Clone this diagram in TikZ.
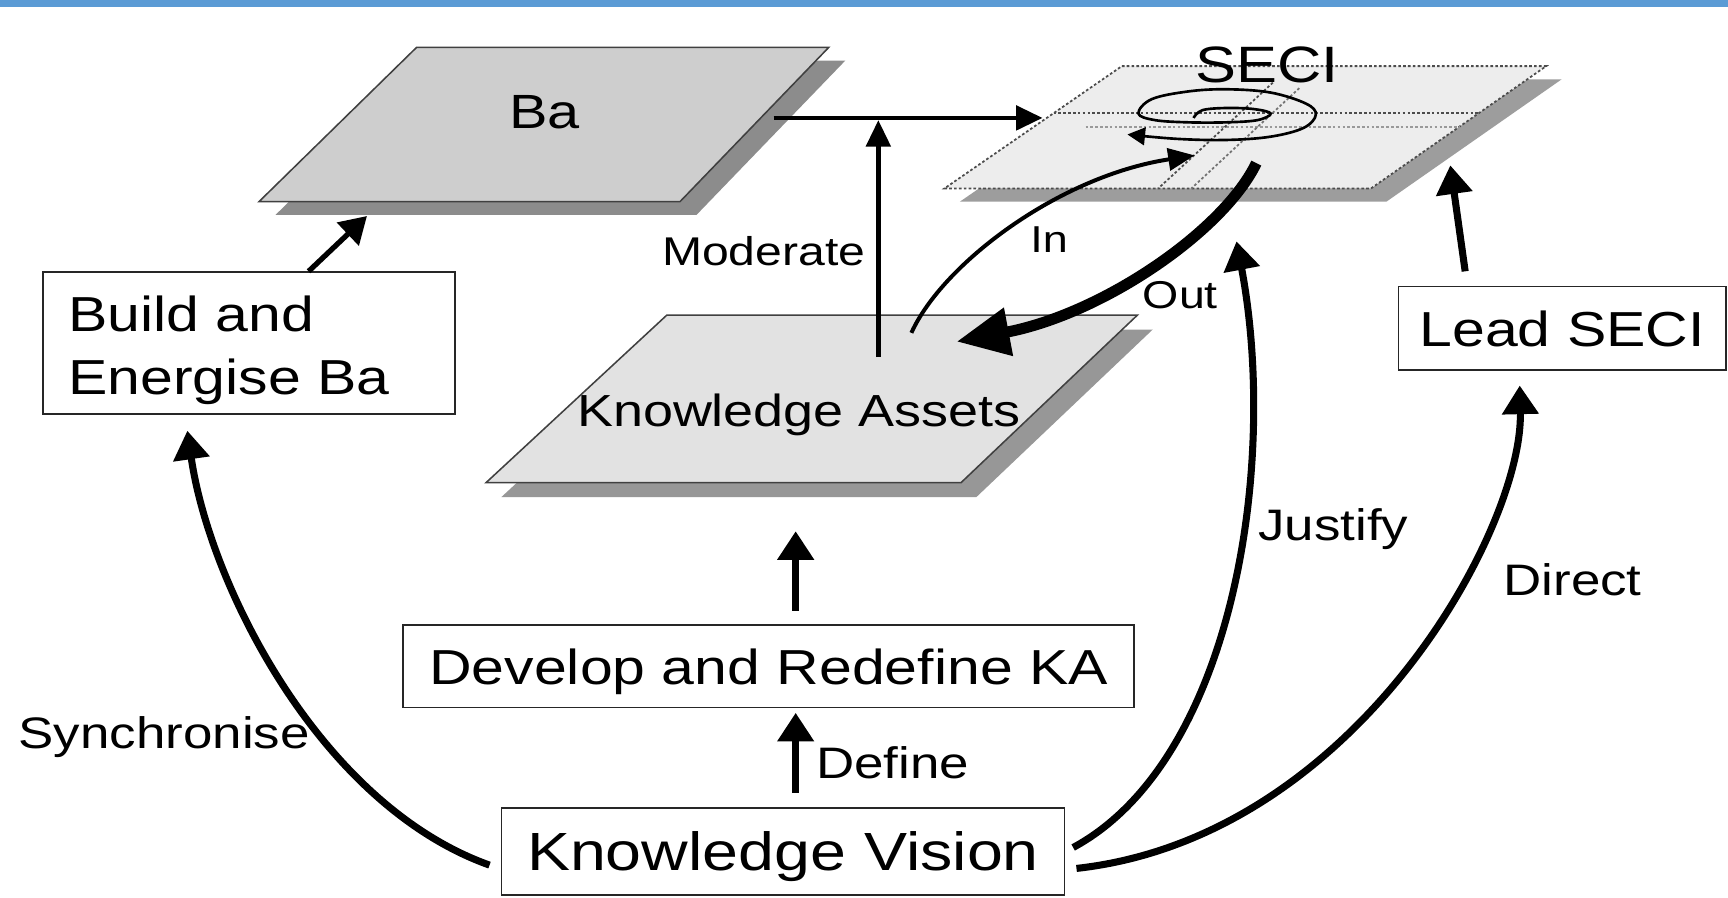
\documentclass[tikz,border=0pt]{standalone}
\usepackage{fontspec}
\setmainfont{Liberation Sans}[FakeStretch=1.2]
\usetikzlibrary{arrows.meta,calc}
\definecolor{topbar}{HTML}{5B9BD5}
\definecolor{bafill}{HTML}{CECECE}
\definecolor{kafill}{HTML}{E2E2E2}
\definecolor{secifill}{HTML}{EDEDED}
\definecolor{shadowgray}{HTML}{8C8C8C}
\begin{document}
\begin{tikzpicture}[x=0.5pt,y=-0.5pt,
  box/.style={draw=black!85,line width=0.8pt,fill=white,inner sep=0pt,text depth=0pt},
  boxfont/.style={font=\fontsize{22.3}{28.5}\selectfont},
  lab/.style={inner sep=0pt,anchor=base,font=\fontsize{20}{24}\selectfont},
  planetext/.style={inner sep=0pt,anchor=base},
  planeedge/.style={draw=black!75,line width=0.7pt},
  seciedge/.style={draw=black!70,line width=0.8pt,dash pattern=on 1.2pt off 1pt},
  thinarr/.style={line width=2pt,-{Triangle[length=12pt,width=11pt]}},
  inarr/.style={line width=1.8pt,-{Triangle[length=12pt,width=10pt]}},
  thickarr/.style={line width=3.2pt,-{Triangle[length=13pt,width=16pt]}},
  midarr/.style={line width=2.4pt,-{Triangle[length=12pt,width=14pt]}},
  outarr/.style={line width=5pt,-{Triangle[length=24pt,width=21pt]}},
  spiralarr/.style={line width=1.2pt,-{Triangle[length=8pt,width=8pt]}}]
\useasboundingbox (0,0) rectangle (1568,814);
\fill[white] (0,0) rectangle (1568,814);
\fill[topbar] (0,0) rectangle (1568,6.5);

% ---- Ba plane
\fill[shadowgray] (393,55) -- (767,55) -- (632,195) -- (250,195) -- cycle;
\filldraw[fill=bafill,planeedge] (378,43) -- (752,43) -- (617,183) -- (235,183) -- cycle;
\node[planetext,font=\fontsize{21.8}{26}\selectfont] (ba) at (494,117) {Ba};

% ---- Knowledge Assets plane
\fill[shadowgray!90] (619,299) -- (1046,299) -- (886,451) -- (455,451) -- cycle;
\filldraw[fill=kafill,planeedge] (605,286) -- (1032,286) -- (872,438) -- (441,438) -- cycle;
\node[planetext,font=\fontsize{20.4}{24}\selectfont] (ka) at (725,387) {Knowledge Assets};

% ---- SECI plane
\fill[shadowgray!85] (1032,72) -- (1417,72) -- (1258,183) -- (871,183) -- cycle;
\fill[secifill] (1018,60) -- (1403,60) -- (1244,171) -- (857,171) -- cycle;
\draw[seciedge] (1018,60) -- (1403,60) -- (1244,171) -- (857,171) -- cycle;
\draw[seciedge] (956,102.6) -- (1342,102.6);
\draw[seciedge,draw=black!40] (985,115) -- (1324,115);
\draw[seciedge] (1155,75) -- (1051,171);
\draw[seciedge,draw=black!55] (1179,80) -- (1081,171);
\begin{scope}[shift={(1113,104)}]
\draw[spiralarr] plot[smooth,tension=0.6] coordinates {(-30,3) (-22,-4) (0,-6) (25,-5) (40,-1) (28,5) (0,7) (-35,7) (-65,5) (-80,-1) (-68,-14) (-35,-21) (0,-23) (40,-20) (72,-10) (81,0) (70,12) (40,20) (0,23) (-45,22) (-90,18)};
\end{scope}
\node[planetext,font=\fontsize{23.2}{28}\selectfont] (seci) at (1150,75) {SECI};

% ---- boxes
\node[box,boxfont,minimum width=187pt,minimum height=64.5pt,align=left,text width=164pt,text height=16pt,text depth=26.5pt] (build) at (226,311.5) {Build and\\Energise Ba};
\node[box,boxfont,minimum width=148.5pt,minimum height=38pt] (lead) at (1417.5,298) {Lead SECI};
\node[box,boxfont,minimum width=331.5pt,minimum height=37.5pt] (drka) at (697.5,604.5) {Develop and Redefine KA};
\node[box,font=\fontsize{24.4}{29}\selectfont,minimum width=255.5pt,minimum height=39.5pt] (kv) at (710.5,772.5) {Knowledge Vision};

% ---- connector end points on the planes
\coordinate (baShadow) at (333,196);
\coordinate (baRight) at (702,107);
\coordinate (seciLeft) at (946,107);
\coordinate (kaMod) at (797,324);
\coordinate (modTop) at (797,109);
\coordinate (kaIn) at (827,302);
\coordinate (seciIn) at (1084,141);
\coordinate (seciOut) at (1140,148);
\coordinate (kaOut) at (868,310);
\coordinate (kaBottom) at (722,482);
\coordinate (seciJustify) at (1122,219);
\coordinate (seciLead) at (1316,150);

% ---- connectors
\draw[midarr] ($(build.north)+(54,0)$) -- (baShadow);
\draw[thinarr] (baRight) -- (seciLeft);
\draw[thinarr] (kaMod) -- (modTop);
\draw[inarr] (kaIn) .. controls (855,240) and (960,160) .. (seciIn);
\draw[outarr] (seciOut) .. controls (1110,210) and (1000,285) .. (kaOut);
\draw[thickarr] ($(drka.north)+(24.5,-12)$) -- (kaBottom);
\draw[thickarr] ($(kv.north)+(11.5,-13)$) -- ($(drka.south)+(24.5,4)$);
\draw[thickarr] ($(kv.east)+(7,-3.5)$) .. controls (1120,690) and (1160,420) .. (seciJustify);
\draw[thickarr] ($(kv.east)+(10,15.5)$) .. controls (1230,760) and (1382,480) .. ($(lead.south)+(-38.5,13)$);
\draw[thickarr] ($(lead.north)+(-88,-13)$) -- (seciLead);
\draw[thickarr] ($(kv.west)+(-10,12.5)$) .. controls (290,730) and (190,530) .. ($(build.south)+(-56,14)$);

% ---- labels
\node[lab,font=\fontsize{18.2}{22}\selectfont] (lmod) at (693,241) {Moderate};
\node[lab,font=\fontsize{17}{20}\selectfont] (lin) at (952,229) {In};
\node[lab,font=\fontsize{17.6}{21}\selectfont] (lout) at (1071,280) {Out};
\node[lab] (ljus) at (1210,490) {Justify};
\node[lab] (ldir) at (1427,540) {Direct};
\node[lab] (lsyn) at (149,679) {Synchronise};
\node[lab] (ldef) at (810,706) {Define};
\end{tikzpicture}
\end{document}
